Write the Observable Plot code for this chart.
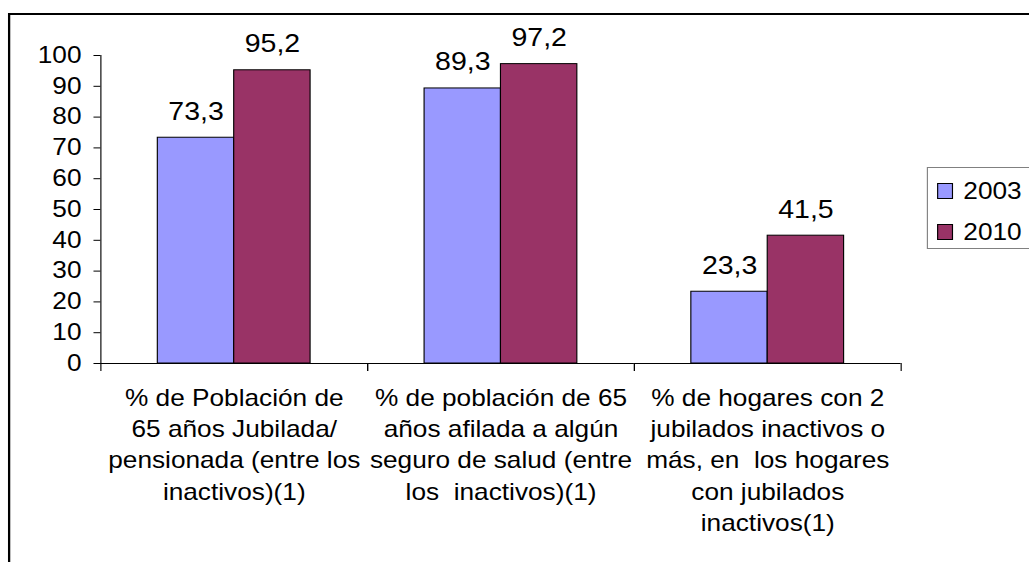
<!DOCTYPE html>
<html>
<head>
<meta charset="utf-8">
<script src="https://cdn.jsdelivr.net/npm/d3@7"></script>
<script src="https://cdn.jsdelivr.net/npm/@observablehq/plot@0.6"></script>
<style>
html,body{margin:0;padding:0;background:#fff;overflow:hidden;width:1029px;height:562px;}
#wrap{position:absolute;left:0;top:0;width:903px;height:562px;transform:scaleX(1.14);transform-origin:0 0;font-family:"Liberation Sans",Arial,sans-serif;}
#frame{position:absolute;left:7px;top:13px;width:1000px;height:700px;border:2px solid #000;box-sizing:border-box;}
#chart{position:absolute;left:0;top:0;}
#chart svg text{white-space:pre;}
#legend{position:absolute;left:813px;top:167px;width:200px;height:82px;border:1px solid #808080;box-sizing:border-box;background:#fff;}
.item{position:absolute;left:8px;height:26px;display:flex;align-items:center;font-size:23px;color:#000;}
.sw{width:14px;height:16px;border:1px solid #000;box-sizing:border-box;margin-right:9px;}
</style>
</head>
<body>
<div id="wrap">
  <div id="frame"></div>
  <div id="chart"></div>
  <div id="legend"></div>
</div>
<script>
const categories = [
  "% de Población de\n65 años Jubilada/\npensionada (entre los\ninactivos)(1)",
  "% de población de 65\naños afilada a algún\nseguro de salud (entre\nlos  inactivos)(1)",
  "% de hogares con 2\njubilados inactivos o\nmás, en  los hogares\ncon jubilados\ninactivos(1)"
];
const series = ["2003", "2010"];
const values2003 = [73.3, 89.3, 23.3];
const values2010 = [95.2, 97.2, 41.5];
const colors = ["#9999FF", "#993366"];
const yTicks = [0, 10, 20, 30, 40, 50, 60, 70, 80, 90, 100];

const data = categories.flatMap((c, i) => [
  {category: c, series: series[0], value: values2003[i]},
  {category: c, series: series[1], value: values2010[i]}
]);
const fmt = v => v.toFixed(1).replace(".", ",");

const chart = Plot.plot({
  width: 903,
  height: 562,
  marginTop: 55,
  marginBottom: 199,
  marginLeft: 88,
  marginRight: 113,
  style: {fontFamily: '"Liberation Sans", Arial, sans-serif', fontSize: "23px", color: "#000", background: "transparent", overflow: "visible"},
  fx: {domain: categories, padding: 0, axis: null},
  x: {domain: series, paddingInner: 0, paddingOuter: 0.733, axis: null},
  y: {domain: [0, 100], ticks: yTicks, tickSize: 6, tickPadding: 11, line: true, label: null},
  color: {domain: series, range: colors},
  marks: [
    Plot.barY(data, {fx: "category", x: "series", y: "value", fill: "series", stroke: "#000", strokeWidth: 1}),
    Plot.ruleY([0], {stroke: "#000", strokeWidth: 1}),
    Plot.frame({anchor: "left", insetTop: 308, insetBottom: -7, stroke: "#000"}),
    Plot.frame({anchor: "right", insetTop: 308, insetBottom: -7, stroke: "#000"}),
    Plot.text(data, {fx: "category", x: "series", y: "value", text: d => fmt(d.value), dy: -18, lineAnchor: "bottom", fontSize: 25, fill: "#000"}),
    Plot.text(categories, {fx: d => d, text: d => d, frameAnchor: "bottom", lineAnchor: "top", dy: 20, lineHeight: 1.36, fontSize: 23, fill: "#000"})
  ]
});
document.getElementById("chart").appendChild(chart);

const legend = document.getElementById("legend");
series.forEach((s, i) => {
  const item = document.createElement("div");
  item.className = "item";
  item.style.top = (10 + i * 41) + "px";
  const sw = document.createElement("div");
  sw.className = "sw";
  sw.style.background = colors[i];
  item.appendChild(sw);
  item.appendChild(document.createTextNode(s));
  legend.appendChild(item);
});
</script>
</body>
</html>
